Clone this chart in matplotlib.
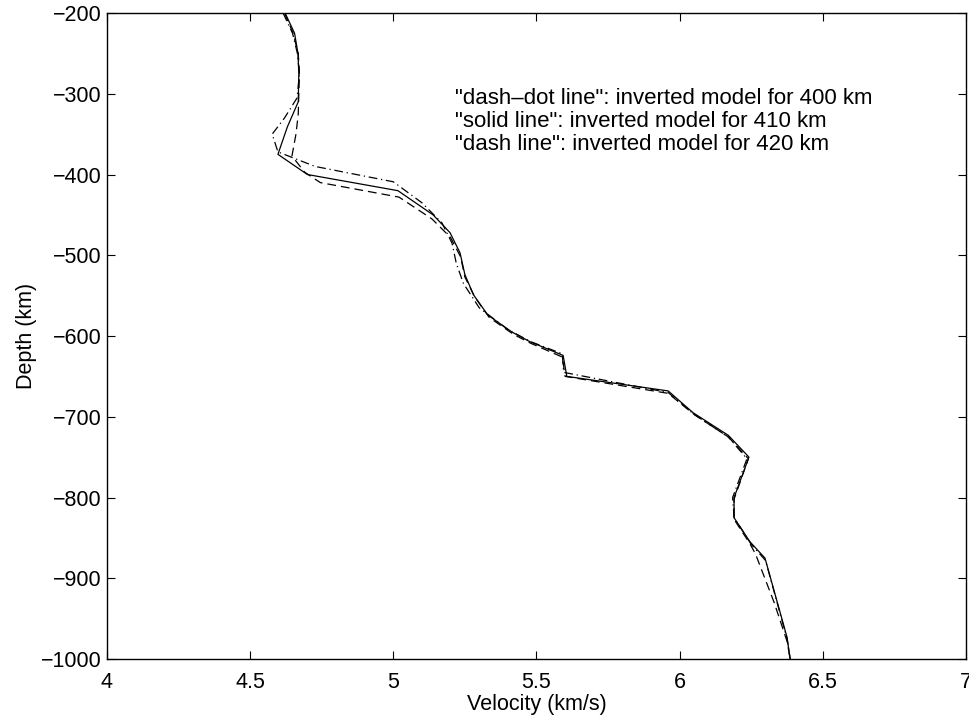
import numpy as np
import matplotlib
matplotlib.use('Agg')
import matplotlib.pyplot as plt

plt.rcParams['font.family'] = ['Liberation Sans', 'DejaVu Sans']

# inverted velocity models (velocity km/s, depth km)
v_400 = [4.615, 4.648, 4.665, 4.672, 4.664, 4.62, 4.577, 4.597, 4.727, 5.0, 5.10, 5.17, 5.205,
         5.22, 5.245, 5.30, 5.40, 5.48, 5.59, 5.595, 5.96, 6.05, 6.17, 6.235, 6.185, 6.19,
         6.25, 6.30, 6.375, 6.386]
d_400 = [-200, -225, -250, -275, -305, -330, -350, -372, -390, -409, -435, -460, -485,
         -510, -535, -565, -592, -607, -622, -645, -670, -697, -725, -752, -800, -825,
         -858, -878, -975, -1000]

v_410 = [4.622, 4.655, 4.667, 4.670, 4.668, 4.63, 4.597, 4.70, 5.016, 5.139, 5.198, 5.233,
         5.25, 5.28, 5.33, 5.414, 5.477, 5.593, 5.606, 5.96, 6.047, 6.17, 6.242, 6.19, 6.19,
         6.246, 6.298, 6.375, 6.386]
d_410 = [-200, -225, -250, -275, -310, -341, -375, -400, -420, -450, -472, -497,
         -524, -549, -574, -595, -607, -624, -650, -668, -695, -723, -750, -800, -825,
         -855, -875, -973, -1000]

v_420 = [4.62, 4.65, 4.668, 4.672, 4.67, 4.668, 4.66, 4.646, 4.69, 4.745, 5.02, 5.135, 5.20,
         5.235, 5.25, 5.285, 5.335, 5.42, 5.48, 5.59, 5.60, 5.96, 6.05, 6.17, 6.24, 6.19,
         6.19, 6.245, 6.265, 6.33, 6.375, 6.386]
d_420 = [-200, -225, -250, -275, -300, -325, -350, -377, -397, -410, -428, -455, -478,
         -502, -527, -552, -577, -598, -609, -626, -650, -671, -697, -725, -752, -802,
         -827, -857, -870, -930, -978, -1000]

notes = ['"dash\u2013dot line": inverted model for 400 km',
         '"solid line": inverted model for 410 km',
         '"dash line": inverted model for 420 km']

fig = plt.figure(figsize=(9.69, 7.19), dpi=100)
ax = fig.add_axes([0.1104, 0.0834, 0.8865, 0.8985])

ax.plot(v_400, d_400, color='black', lw=0.9, dashes=(7, 3, 1, 3))
ax.plot(v_410, d_410, color='black', lw=0.9)
ax.plot(v_420, d_420, color='black', lw=0.9, dashes=(7, 4))

for i, s in enumerate(notes):
    ax.text(5.215, -306 - i * 28.5, s, fontsize=16, va='center', ha='left')

ax.set_xlim(4, 7)
ax.set_ylim(-1000, -200)
ax.set_xticks([4, 4.5, 5, 5.5, 6, 6.5, 7])
ax.set_xticklabels(['4', '4.5', '5', '5.5', '6', '6.5', '7'])
ax.set_yticks(np.arange(-1000, -199, 100))
ax.tick_params(direction='in', length=6, width=0.8, labelsize=15.5,
               top=True, right=True)
ax.tick_params(axis='x', pad=9)
ax.tick_params(axis='y', pad=4)
for sp in ax.spines.values():
    sp.set_linewidth(1.0)
ax.set_xlabel('Velocity (km/s)', fontsize=15.5, labelpad=1)
ax.set_ylabel('Depth (km)', fontsize=15.5, labelpad=3)

fig.savefig('out.png', dpi=100)
